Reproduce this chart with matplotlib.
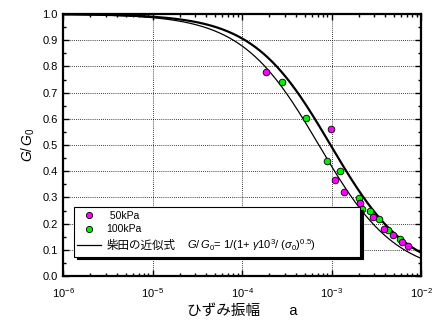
import matplotlib
matplotlib.use('Agg')
import matplotlib.pyplot as plt
import numpy as np
from matplotlib.ticker import LogLocator, MultipleLocator, FormatStrFormatter, NullFormatter
from matplotlib.offsetbox import TextArea

plt.rcParams['font.family'] = ['Liberation Sans', 'Noto Sans CJK JP']
plt.rcParams['mathtext.fontset'] = 'custom'
plt.rcParams['mathtext.rm'] = 'Liberation Sans'
plt.rcParams['mathtext.it'] = 'Liberation Sans:italic'
plt.rcParams['mathtext.bf'] = 'Liberation Sans:bold'

# measured points, 50kPa (magenta)
strain_50 = [1.85e-4, 9.8e-4, 1.09e-3, 1.39e-3, 2.10e-3, 2.93e-3, 3.83e-3, 4.90e-3, 6.08e-3, 7.16e-3]
gg0_50 = [0.778, 0.561, 0.365, 0.321, 0.277, 0.224, 0.179, 0.156, 0.131, 0.115]

# measured points, 100kPa (green)
strain_100 = [2.82e-4, 5.19e-4, 8.9e-4, 1.24e-3, 2.03e-3, 2.17e-3, 2.67e-3, 3.40e-3, 4.31e-3, 5.82e-3]
gg0_100 = [0.742, 0.603, 0.439, 0.401, 0.299, 0.257, 0.248, 0.216, 0.176, 0.141]

# confining stress used in Shibata's formula (thin / thick curve)
sigma_thin = 0.52
sigma_thick = 0.95

gamma = np.logspace(-6, -2, 400)


def shibata(g, s):
    return 1.0 / (1.0 + g * 1e3 / s ** 0.5)


fig = plt.figure(figsize=(4.35, 3.2), dpi=100)
ax = fig.add_axes([0.145, 0.1375, 0.823, 0.8185])

ax.plot(gamma, shibata(gamma, sigma_thin), color='black', linewidth=0.9, zorder=3)
ax.plot(gamma, shibata(gamma, sigma_thick), color='black', linewidth=1.6, zorder=3)
ax.plot(strain_100, gg0_100, 'o', color='#00ee00', markeredgecolor='black',
        markeredgewidth=0.6, markersize=4.8, zorder=4)
ax.plot(strain_50, gg0_50, 'o', color='#ff00ff', markeredgecolor='black',
        markeredgewidth=0.6, markersize=4.8, zorder=5)

ax.set_xscale('log')
ax.set_xlim(1e-6, 1e-2)
ax.set_ylim(0, 1.0)

ax.xaxis.set_major_locator(LogLocator(base=10, numticks=10))
ax.xaxis.set_minor_locator(LogLocator(base=10, subs=np.arange(2, 10), numticks=20))
ax.xaxis.set_minor_formatter(NullFormatter())
ax.yaxis.set_major_locator(MultipleLocator(0.1))
ax.yaxis.set_minor_locator(MultipleLocator(0.05))
ax.yaxis.set_major_formatter(FormatStrFormatter('%.1f'))

ax.tick_params(which='both', direction='in', top=True, right=True, labelsize=8, width=1)
ax.tick_params(which='major', length=4, pad=4)
ax.tick_params(axis='x', which='major', pad=7)
ax.tick_params(which='minor', length=2.5)
for sp in ax.spines.values():
    sp.set_linewidth(1.6)

ax.grid(True, which='major', linestyle=(0, (1, 1.5)), color='black', linewidth=0.6)

ax.set_ylabel('$G/\\,G_0$', fontsize=10, labelpad=4)
ax.set_xlabel('ひずみ振幅　　a', fontsize=10.5, labelpad=3)

# legend handles
h50, = ax.plot([], [], 'o', color='#ff00ff', markeredgecolor='black', markeredgewidth=0.6, markersize=4.5)
h100, = ax.plot([], [], 'o', color='#00ee00', markeredgecolor='black', markeredgewidth=0.6, markersize=4.5)
hline, = ax.plot([], [], color='black', linewidth=0.9)
leg = ax.legend([h50, h100, hline],
                [' 50kPa', '100kPa', '柴田の近似式'],
                loc='upper left', bbox_to_anchor=(0.03, 0.262), borderaxespad=0,
                fontsize=7.5, frameon=True, fancybox=False, edgecolor='black',
                framealpha=1, labelspacing=0.3, handlelength=2.3, handletextpad=0.5,
                borderpad=0.35, shadow={'color': 'black', 'alpha': 1})
leg.get_frame().set_linewidth(0.8)
leg.set_zorder(10)
leg.get_texts()[2].set_fontsize(8.3)

# formula goes in the same legend row, after the japanese name (mathtext has no CJK glyphs)
formula = '  $G/\\,G_0$= 1/(1+ $\\gamma$10$^3$/ ($\\sigma_0$)$^{0.5}$)' + ' ' * 14
row = leg._legend_handle_box.get_children()[0].get_children()[2]
formula_box = TextArea(formula, textprops=dict(fontsize=8))
formula_box.set_figure(fig)
row.get_children().append(formula_box)

fig.savefig('out.png', dpi=100)
